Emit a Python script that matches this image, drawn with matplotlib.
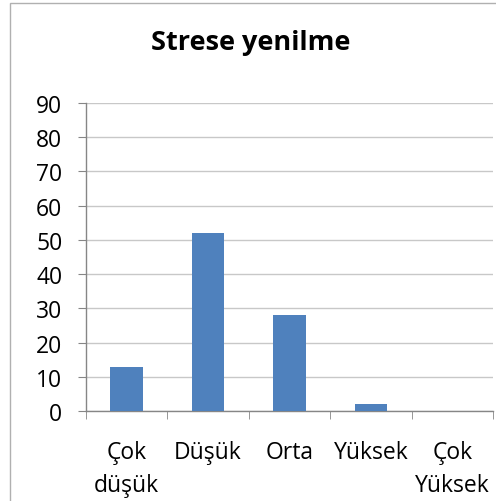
import matplotlib
matplotlib.use("Agg")
import matplotlib.pyplot as plt
from matplotlib.patches import Rectangle
from matplotlib.ticker import FixedLocator

# data
categories = ["Çok\ndüşük", "Düşük", "Orta", "Yüksek", "Çok\nYüksek"]
values = [13, 52, 28, 2, 0]
y_ticks = [0, 10, 20, 30, 40, 50, 60, 70, 80, 90]

plt.rcParams['font.family'] = ['Open Sans', 'DejaVu Sans']

fig = plt.figure(figsize=(4.96, 5.02), dpi=100)
ax = fig.add_axes([0.1734, 0.1793, 0.8206, 0.6135])

x = list(range(len(categories)))
ax.bar(x, values, width=0.4, color="#4F81BD", zorder=3)

ax.set_xlim(-0.5, len(categories) - 0.5)
ax.set_ylim(0, 90)
ax.set_yticks(y_ticks)
ax.set_xticks(x)
ax.set_xticklabels(categories, linespacing=1.5)
ax.xaxis.set_minor_locator(FixedLocator([i - 0.5 for i in range(len(categories) + 1)]))

ax.grid(axis="y", color="#c8c8c8", linewidth=1.0, zorder=0)
for s in ["top", "right"]:
    ax.spines[s].set_visible(False)
for s in ["left", "bottom"]:
    ax.spines[s].set_color("#868686")
    ax.spines[s].set_linewidth(1.0)

ax.tick_params(axis="y", length=6, color="#868686", labelsize=16.5, pad=11)
ax.tick_params(axis="x", which="major", length=0, labelsize=16.5, pad=21)
ax.tick_params(axis="x", which="minor", length=6, color="#868686")

fig.text(0.505, 0.914, "Strese yenilme", ha="center", va="center",
         fontsize=19.5, fontweight="bold")

# outer chart border
fig.patches.append(Rectangle((10 / 496, -0.05), 1.0, 1.0 - 3.5 / 502 + 0.05,
                             transform=fig.transFigure, fill=False,
                             edgecolor="#b0b0b0", linewidth=1.0))

fig.savefig("out.png", dpi=100)
